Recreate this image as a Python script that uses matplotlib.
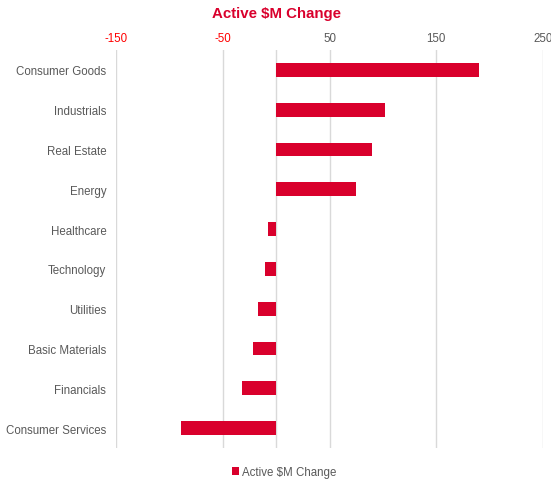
import matplotlib
matplotlib.use("Agg")
import matplotlib.pyplot as plt

plt.rcParams['font.family'] = ['Liberation Sans', 'DejaVu Sans']

categories = ["Consumer Goods", "Industrials", "Real Estate", "Energy", "Healthcare",
              "Technology", "Utilities", "Basic Materials", "Financials", "Consumer Services"]
values = [190, 102, 90, 74.5, -7.3, -10, -17, -21.7, -31.7, -89.5]
xticks = [-150, -50, 50, 150, 250]
series_name = "Active $M Change"

red = "#D9002C"
grey = "#595959"
gridc = "#D9D9D9"

fig = plt.figure(figsize=(5.51, 4.81), dpi=100)
ax = fig.add_axes([116/551, 1-449/481, (543-116)/551, (449-51)/481])

ypos = list(range(len(categories)))
ax.barh(ypos, values, height=0.35, color=red, label=series_name, zorder=3)
ax.set_ylim(len(categories)-0.5, -0.5)
ax.set_xlim(-150, 250)
ax.set_yticks(ypos)
ax.set_yticklabels(categories, fontsize=8.3, color=grey)
ax.xaxis.tick_top()
ax.set_xticks(xticks)
ax.set_xticklabels([str(v) for v in xticks], fontsize=8.3)
for lbl, v in zip(ax.get_xticklabels(), xticks):
    lbl.set_color("#FF0000" if v < 0 else grey)
ax.tick_params(axis='both', length=0)
ax.tick_params(axis='x', pad=4)
ax.tick_params(axis='y', pad=7)
ax.grid(axis='x', color=gridc, linewidth=1, zorder=0)
ax.axvline(0, color=gridc, linewidth=1, zorder=1)
for s in ax.spines.values():
    s.set_visible(False)

fig.text(276/551, 1-14/481, series_name, ha='center', va='center', fontsize=10.8,
         fontweight='bold', color=red)
leg = fig.legend(loc='center', bbox_to_anchor=(284/551, 1-473/481), frameon=False,
                 fontsize=8.3, handlelength=0.6, handleheight=0.6, handletextpad=0.3)
for t in leg.get_texts():
    t.set_color(grey)

fig.savefig("out.png", dpi=100)
